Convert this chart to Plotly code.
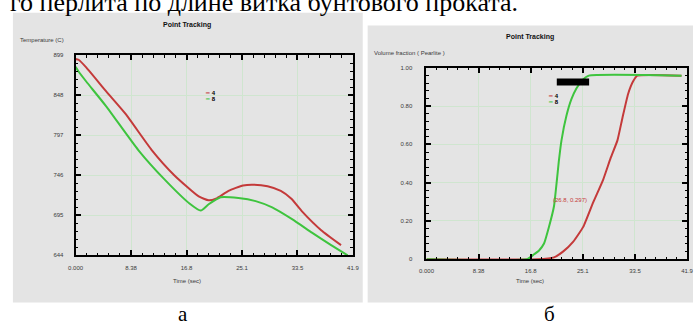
import plotly.graph_objects as go

W, H = 699, 330

# ---- Temperature history of two tracked points (left panel) ----
t_temp_4 = [0.0, 0.44, 1.63, 4.59, 7.55, 11.5, 14.9, 18.6, 20.1, 21.2, 23.1, 25.3,
            26.8, 29.0, 31.0, 32.6, 34.2, 37.1, 40.1]
temp_4 = [894, 893, 883, 853, 824, 778, 746, 719, 714, 716, 726, 733,
          734, 732, 726, 716, 700, 676, 657]

t_temp_8 = [0.0, 0.44, 1.63, 4.59, 9.47, 13.5, 17.2, 18.9, 20.1, 21.9, 24.6, 27.2,
            29.7, 32.7, 35.7, 38.6, 41.1]
temp_8 = [884, 878, 865, 834, 778, 740, 710, 701, 709, 718, 717, 713,
          705, 690, 673, 657, 644]

# ---- Pearlite volume fraction of the same points (right panel) ----
t_vf_4 = [0.0, 17.8, 20.5, 22.0, 23.6, 25.2, 26.8, 28.4, 29.6, 30.7, 31.5, 32.4,
          33.2, 33.9, 41.0]
vf_4 = [0.0, 0.0, 0.01, 0.041, 0.092, 0.169, 0.297, 0.415, 0.528, 0.621, 0.738, 0.862,
        0.928, 0.959, 0.959]

t_vf_8 = [0.0, 16.2, 17.3, 18.1, 18.9, 19.7, 20.5, 21.3, 21.7, 22.5, 23.3, 24.1,
          25.0, 26.1, 41.0]
vf_8 = [0.0, 0.0, 0.026, 0.046, 0.082, 0.17, 0.277, 0.518, 0.62, 0.749, 0.836, 0.892,
        0.933, 0.959, 0.959]

series_names = ["4", "8"]
series_colors = ["#c43a3a", "#3ec43e"]

# probed point on curve "4" (time, fraction)
probe_t, probe_vf = 26.8, 0.297

# ---- axis ticks ----
time_ticks = [0.0, 8.38, 16.76, 25.14, 33.52, 41.9]
time_labels = ["0.000", "8.38", "16.8", "25.1", "33.5", "41.9"]
temp_ticks = [644, 695, 746, 797, 848, 899]
temp_labels = ["644", "695", "746", "797", "848", "899"]
vf_ticks = [0.0, 0.2, 0.4, 0.6, 0.8, 1.0]
vf_labels = ["0", "0.20", "0.40", "0.60", "0.80", "1.00"]


def px(x):
    return x / W


def py(y):
    return 1 - y / H


PANEL = "#e4e4e4"
GRID = "#cfe5cf"
TXT = "#3a3a3a"
SANS = "Liberation Sans, Arial, sans-serif"
SERIF = "Liberation Serif, Times New Roman, serif"


def axis(domain, rng, ticks, labels, minor_step, standoff):
    return dict(
        domain=domain, range=rng, tickmode="array", tickvals=ticks, ticktext=labels,
        showline=True, linecolor="black", linewidth=2, mirror="allticks",
        ticks="inside", ticklen=5, tickwidth=1.5, tickcolor="black",
        minor=dict(ticks="inside", ticklen=2.5, tickwidth=1, tickcolor="black",
                   tick0=rng[0], dtick=minor_step, showgrid=False),
        showgrid=True, gridcolor=GRID, gridwidth=1, zeroline=False,
        tickfont=dict(size=6, family=SANS, color=TXT),
        ticklabelstandoff=standoff, fixedrange=True,
    )


fig = go.Figure()

# left: temperature curves
for t, v, name, col in [(t_temp_4, temp_4, series_names[0], series_colors[0]),
                        (t_temp_8, temp_8, series_names[1], series_colors[1])]:
    fig.add_trace(go.Scatter(x=t, y=v, mode="lines", name=name, showlegend=False,
                             line=dict(color=col, width=2, shape="spline", smoothing=0.5),
                             xaxis="x", yaxis="y"))

# right: pearlite fraction curves (green drawn last so it lies on top along zero)
for t, v, name, col in [(t_vf_4, vf_4, series_names[0], series_colors[0]),
                        (t_vf_8, vf_8, series_names[1], series_colors[1])]:
    fig.add_trace(go.Scatter(x=t, y=v, mode="lines", name=name, showlegend=False,
                             line=dict(color=col, width=2, shape="spline", smoothing=0.4),
                             xaxis="x2", yaxis="y2"))

fig.update_layout(
    width=W, height=H, margin=dict(l=0, r=0, t=0, b=0),
    paper_bgcolor="white", plot_bgcolor=PANEL,
    xaxis=axis([px(69), px(352)], [0, 41.9], time_ticks, time_labels, 41.9 / 25, 5),
    yaxis=axis([py(257), py(53)], [644, 899], temp_ticks, temp_labels, 255 / 25, 9),
    xaxis2=axis([px(427), px(693)], [0, 41.9], time_ticks, time_labels, 41.9 / 25, 5),
    yaxis2=axis([py(261), py(66)], [0, 1.0], vf_ticks, vf_labels, 0.04, 11),
)
fig.layout.xaxis2.anchor = "y2"
fig.layout.yaxis2.anchor = "x2"

shapes = [
    # gray panels behind each chart
    dict(type="rect", xref="paper", yref="paper", x0=px(5), x1=px(362), y0=py(305), y1=py(10),
         fillcolor=PANEL, line=dict(width=0), layer="below"),
    dict(type="rect", xref="paper", yref="paper", x0=px(367), x1=px(699), y0=py(305), y1=py(23),
         fillcolor=PANEL, line=dict(width=0), layer="below"),
    # dark readout box above the legend of the right chart
    dict(type="rect", xref="paper", yref="paper", x0=px(560), x1=px(593), y0=py(84), y1=py(77),
         fillcolor="black", line=dict(width=0)),
]
fig.update_layout(shapes=shapes)


def legend_text(name, col):
    return f"<span style='color:{col}'>━</span> <b>{name}</b>"


ann = []
# heading line of the surrounding text
ann.append(dict(text="го перлита по длине витка бунтового проката.", xref="paper", yref="paper",
                x=px(0), y=py(16), xanchor="left", yanchor="bottom", showarrow=False,
                font=dict(family=SERIF, size=26, color="black")))
# panel captions
ann.append(dict(text="а", xref="paper", yref="paper", x=px(179), y=py(317), showarrow=False,
                xanchor="center", yanchor="middle", font=dict(family=SERIF, size=21, color="black")))
ann.append(dict(text="б", xref="paper", yref="paper", x=px(553), y=py(317), showarrow=False,
                xanchor="center", yanchor="middle", font=dict(family=SERIF, size=21, color="black")))

for cx, cy, ytxt, ylab in [(183, 22, 38, "Temperature (C)"),
                          (533, 35, 51, "Volume fraction ( Pearlite )")]:
    ann.append(dict(text="<b>Point Tracking</b>", xref="paper", yref="paper", x=px(cx), y=py(cy),
                    showarrow=False, xanchor="center", yanchor="middle",
                    font=dict(family=SANS, size=7, color="#111")))
    ann.append(dict(text="Time (sec)", xref="paper", yref="paper", x=px(cx), y=py(283),
                    showarrow=False, xanchor="center", yanchor="middle",
                    font=dict(family=SANS, size=6, color=TXT)))
    ann.append(dict(text=ylab, xref="paper", yref="paper", x=px(10 if cx < 300 else 371),
                    y=py(ytxt), showarrow=False, xanchor="left", yanchor="middle",
                    font=dict(family=SANS, size=6, color=TXT)))

# in-plot legends
for lx, ly in [(199, 92), (549, 95)]:
    for i, (name, col) in enumerate(zip(series_names, series_colors)):
        ann.append(dict(text=legend_text(name, col), xref="paper", yref="paper",
                        x=px(lx), y=py(ly + 6 * i), showarrow=False, xanchor="left",
                        yanchor="middle", font=dict(family=SANS, size=6, color="black")))

# readout of the probed point
ann.append(dict(text=f"({probe_t:.1f}, {probe_vf:.3f})", xref="x2", yref="y2",
                x=probe_t, y=probe_vf, showarrow=False, xanchor="right", yanchor="middle",
                xshift=-4, yshift=2, font=dict(family=SANS, size=6, color=series_colors[0])))

fig.update_layout(annotations=ann)

fig.write_html("out.html")
